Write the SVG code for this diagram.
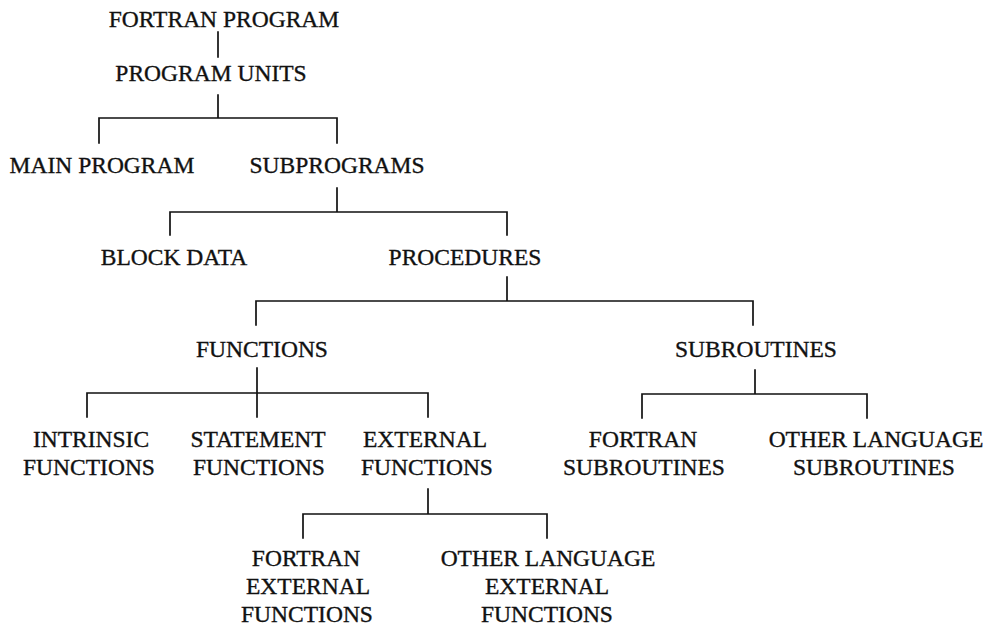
<svg xmlns="http://www.w3.org/2000/svg" width="997" height="630" viewBox="0 0 997 630">
<style>
text{font-family:"Liberation Serif","Times New Roman",serif;font-size:23.5px;fill:#111;stroke:#111;stroke-width:0.35;text-anchor:middle}
.c{stroke:#111;stroke-width:1.7;fill:none;stroke-linecap:square}
</style>
<rect width="997" height="630" fill="#fff"/>
<g id="connectors" class="c">
<path d="M218 32V57"/>
<path d="M218 95V118M99 143V118H337V143"/>
<path d="M337 188V212M170 235V212H507V235"/>
<path d="M507 277V301M256 325V301H753V325"/>
<path d="M257 368V417M87 417V393H428V417"/>
<path d="M755 370V394M642 418V394H867V418"/>
<path d="M428 489V514M303 538V514H547V538"/>
</g>
<g id="fortran-program"><text x="224" y="27">FORTRAN PROGRAM</text></g>
<g id="program-units"><text x="211" y="81">PROGRAM UNITS</text></g>
<g id="main-program"><text x="102" y="173">MAIN PROGRAM</text></g>
<g id="subprograms"><text x="337" y="173">SUBPROGRAMS</text></g>
<g id="block-data"><text x="174" y="265">BLOCK DATA</text></g>
<g id="procedures"><text x="465" y="265">PROCEDURES</text></g>
<g id="functions"><text x="262" y="357">FUNCTIONS</text></g>
<g id="subroutines"><text x="756" y="357">SUBROUTINES</text></g>
<g id="intrinsic-functions"><text x="91" y="447">INTRINSIC</text><text x="89" y="475">FUNCTIONS</text></g>
<g id="statement-functions"><text x="258" y="447">STATEMENT</text><text x="259" y="475">FUNCTIONS</text></g>
<g id="external-functions"><text x="425" y="447">EXTERNAL</text><text x="427" y="475">FUNCTIONS</text></g>
<g id="fortran-subroutines"><text x="643" y="447">FORTRAN</text><text x="644" y="475">SUBROUTINES</text></g>
<g id="other-language-subroutines"><text x="876" y="447">OTHER LANGUAGE</text><text x="874" y="475">SUBROUTINES</text></g>
<g id="fortran-external-functions"><text x="306" y="566">FORTRAN</text><text x="308" y="594">EXTERNAL</text><text x="307" y="622">FUNCTIONS</text></g>
<g id="other-language-external-functions"><text x="548" y="566">OTHER LANGUAGE</text><text x="547" y="594">EXTERNAL</text><text x="547" y="622">FUNCTIONS</text></g>
</svg>
